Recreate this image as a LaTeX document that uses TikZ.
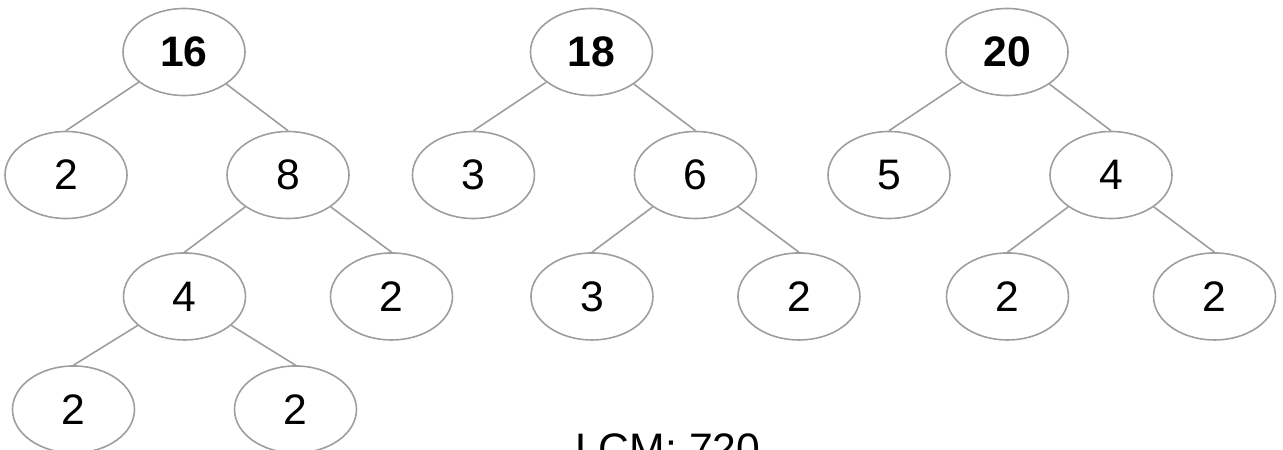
\documentclass[tikz,border=0pt]{standalone}
\usepackage{fontspec}
\setmainfont{Liberation Sans}
\usepackage{xcolor}
\usepackage{tikz}
\usetikzlibrary{shapes.geometric}

\definecolor{linegray}{HTML}{9E9E9E}
\tikzset{
  factor/.style={ellipse, draw=linegray, line width=1.2pt, minimum width=91.5pt, minimum height=65.25pt, inner sep=0pt, font=\fontsize{32}{38}\selectfont},
  rootnode/.style={factor, font=\fontsize{32}{38}\selectfont\bfseries}
}

\begin{document}
\begin{tikzpicture}[x=1pt, y=1pt,
  edge from parent/.style={draw=linegray, line width=1.2pt},
  edge from parent path={(\tikzparentnode) -- (\tikzchildnode.north)},
  level 1/.style={sibling distance=166.5pt, level distance=92.25pt, every child node/.style={factor, xshift=-5.25pt}},
  level 2/.style={sibling distance=155.25pt, level distance=91.1pt, every child node/.style={factor}},
  level 3/.style={sibling distance=166.5pt, level distance=84.75pt}]
  \useasboundingbox (0,0) rectangle (962.25,-337.5);
  \node[rootnode](a) at (138,-39){16}
    child {node(a2){2}}
    child {node(a8){8}
		child {node(a4){4}
			child {node(a4l){2}}
			child {node(a4r){2}}}
		child {node(a8r){2}}};
  \node[rootnode](b) at (443.6,-39){18}
    child {node(b3){3}}
    child {node(b6){6}
		child {node(b6l){3}}
		child {node(b6r){2}}};
  \node[rootnode](c) at (755.25,-39){20}
    child {node(c5){5}}
    child {node(c4){4}
		child {node(c4l){2}}
		child {node(c4r){2}}};
  \node[anchor=base west, inner sep=0pt, font=\fontsize{32}{38}\selectfont](lcm) at (431.25,-347.7){LCM: 720};
\end{tikzpicture}
\end{document}
